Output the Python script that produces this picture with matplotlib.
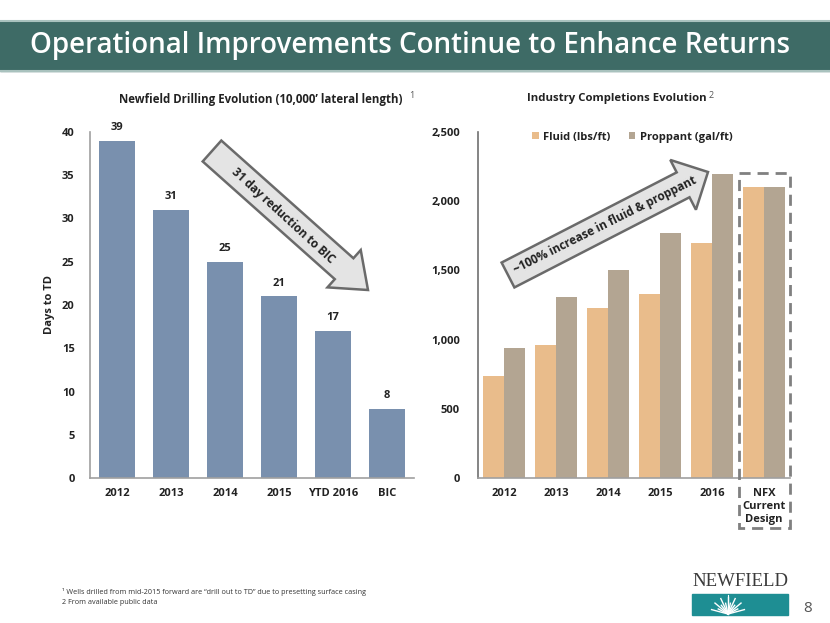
import numpy as np
import matplotlib
matplotlib.use("Agg")
import matplotlib.pyplot as plt
from matplotlib.patches import Rectangle, Polygon

plt.rcParams['font.family'] = ['Open Sans', 'DejaVu Sans']

# drilling data (days to TD)
drill_labels = ['2012', '2013', '2014', '2015', 'YTD 2016', 'BIC']
drill_days = [39, 31, 25, 21, 17, 8]

# completions data
comp_labels = ['2012', '2013', '2014', '2015', '2016', 'NFX\nCurrent\nDesign']
fluid = [740, 960, 1230, 1330, 1700, 2100]
proppant = [940, 1310, 1500, 1770, 2200, 2100]

BLUE = '#7990AE'
FLUID_C = '#E9BC8B'
PROP_C = '#B3A592'
TXT = '#222222'
AXC = '#A0A0A0'

W, H = 830, 623
fig = plt.figure(figsize=(8.3, 6.23), dpi=100)


def px_axes(x0, x1, y_top, y_bot):
    return [x0 / W, 1 - y_bot / H, (x1 - x0) / W, (y_bot - y_top) / H]


def style_axes(ax):
    for s in ['top', 'right']:
        ax.spines[s].set_visible(False)
    for s in ['left', 'bottom']:
        ax.spines[s].set_color(AXC)
        ax.spines[s].set_linewidth(1.2)
    ax.tick_params(length=0, labelsize=8, colors=TXT)
    ax.tick_params(axis='x', pad=7)
    for lb in ax.get_xticklabels() + ax.get_yticklabels():
        lb.set_fontweight('bold')


# ---- left chart ----
ax1 = fig.add_axes(px_axes(90, 414, 132, 478))
x1 = np.arange(len(drill_days))
ax1.bar(x1, drill_days, width=0.67, color=BLUE)
for xi, v in zip(x1, drill_days):
    ax1.text(xi, v + 0.9, str(v), ha='center', va='bottom', fontsize=8,
             fontweight='bold', color=TXT)
ax1.set_xlim(-0.5, 5.5)
ax1.set_ylim(0, 40)
ax1.set_yticks(range(0, 41, 5))
ax1.set_xticks(x1)
ax1.set_xticklabels(drill_labels)
ax1.set_ylabel('Days to TD', fontsize=8, fontweight='bold', color=TXT, labelpad=5)
style_axes(ax1)
ax1.tick_params(axis='y', pad=11)

# ---- right chart ----
ax2 = fig.add_axes(px_axes(478, 790, 132, 478))
x2 = np.arange(len(fluid))
ax2.bar(x2 - 0.2, fluid, width=0.4, color=FLUID_C, label='Fluid (lbs/ft)')
ax2.bar(x2 + 0.2, proppant, width=0.4, color=PROP_C, label='Proppant (gal/ft)')
ax2.set_xlim(-0.5, 5.5)
ax2.set_ylim(0, 2500)
ax2.set_yticks(range(0, 2501, 500))
ax2.set_yticklabels(['{:,}'.format(v) for v in range(0, 2501, 500)])
ax2.set_xticks(x2)
ax2.set_xticklabels(comp_labels, va='top', linespacing=1.25)
style_axes(ax2)
ax2.spines['left'].set_color('#707070')
ax2.tick_params(axis='y', pad=13)
leg = ax2.legend(loc='center', bbox_to_anchor=(0.495, 0.985), ncol=2, frameon=False,
                 handlelength=0.6, handleheight=0.6, handletextpad=0.4, columnspacing=1.6,
                 prop={'size': 8, 'weight': 'bold'})
for t in leg.get_texts():
    t.set_color(TXT)

# ---- overlay in pixel coordinates ----
ov = fig.add_axes([0, 0, 1, 1], zorder=10)
ov.set_xlim(0, W)
ov.set_ylim(H, 0)
ov.axis('off')
ov.patch.set_alpha(0)

# header band
ov.add_patch(Rectangle((0, 21), W, 50, color='#3E6B66', zorder=1))
ov.plot([0, W], [21, 21], color='#A9C2BE', lw=1.5, zorder=2)
ov.plot([0, W], [71, 71], color='#A9C2BE', lw=1.5, zorder=2)
ov.text(30, 46, 'Operational Improvements Continue to Enhance Returns', color='white',
        fontsize=20, fontweight='semibold', va='center', ha='left', zorder=3)

# chart titles
ov.text(119, 99, 'Newfield Drilling Evolution (10,000\u2019 lateral length)', fontsize=8.3,
        fontweight='bold', color=TXT, ha='left', va='center')
ov.text(409, 96, '1', fontsize=6.5, color='#555555', ha='left', va='center')
ov.text(527, 98, 'Industry Completions Evolution', fontsize=8.2,
        fontweight='bold', color=TXT, ha='left', va='center')
ov.text(709, 95, '2', fontsize=6.5, color='#555555', ha='left', va='center')


def block_arrow(ax, start, end, shaft_w, head_w, head_l):
    p0 = np.array(start, float)
    p1 = np.array(end, float)
    d = (p1 - p0) / np.linalg.norm(p1 - p0)
    n = np.array([-d[1], d[0]])
    hb = p1 - d * head_l
    pts = [p0 + n * shaft_w / 2, hb + n * shaft_w / 2, hb + n * head_w / 2, p1,
           hb - n * head_w / 2, hb - n * shaft_w / 2, p0 - n * shaft_w / 2]
    ax.add_patch(Polygon(pts, closed=True, facecolor='#E4E4E4', edgecolor='#6A6A6A',
                         lw=1.8, zorder=5))


block_arrow(ov, (212, 151), (368, 290), 28, 50, 32)
ov.text(283, 216, '31 day reduction to BIC', rotation=-42.5, fontsize=8.5, fontweight='bold',
        color=TXT, ha='center', va='center', rotation_mode='anchor', zorder=6)

block_arrow(ov, (508, 275), (708, 172), 28, 56, 28)
ov.text(605, 225, '~100% increase in fluid & proppant', rotation=26.5, fontsize=8.5,
        fontweight='bold', color=TXT, ha='center', va='center', rotation_mode='anchor',
        zorder=6)

# dashed box around NFX design
ov.add_patch(Rectangle((739, 173), 51, 355, fill=False, edgecolor='#808080', lw=2,
                       linestyle=(0, (4, 2.5)), zorder=4))

# footnotes
ov.text(62, 592, '\u00b9 Wells drilled from mid-2015 forward are \u201cdrill out to TD\u201d due to presetting surface casing',
        fontsize=5.2, color='#333333', ha='left', va='center')
ov.text(62, 603, '2 From available public data', fontsize=5.2, color='#333333',
        ha='left', va='center')

# logo
ov.text(740, 582, 'NEWFIELD', family='Liberation Serif', fontsize=13.5, color='#3A3A3A',
        ha='center', va='center')
ov.add_patch(Rectangle((692, 594), 96, 21, color='#1E8E93', zorder=2))
cx, cy = 728, 614
for i, ang in enumerate(np.linspace(15, 165, 13)):
    r = 17 if i % 2 == 0 else 11
    ov.plot([cx, cx + r * np.cos(np.radians(ang))], [cy, cy - r * np.sin(np.radians(ang))],
            color='white', lw=1, zorder=3)
ov.plot([cx, cx], [595, 614], color='white', lw=0.8, zorder=3)
ov.text(808, 609, '8', fontsize=11, color='#555555', ha='center', va='center')

fig.savefig('out.png', dpi=100)
